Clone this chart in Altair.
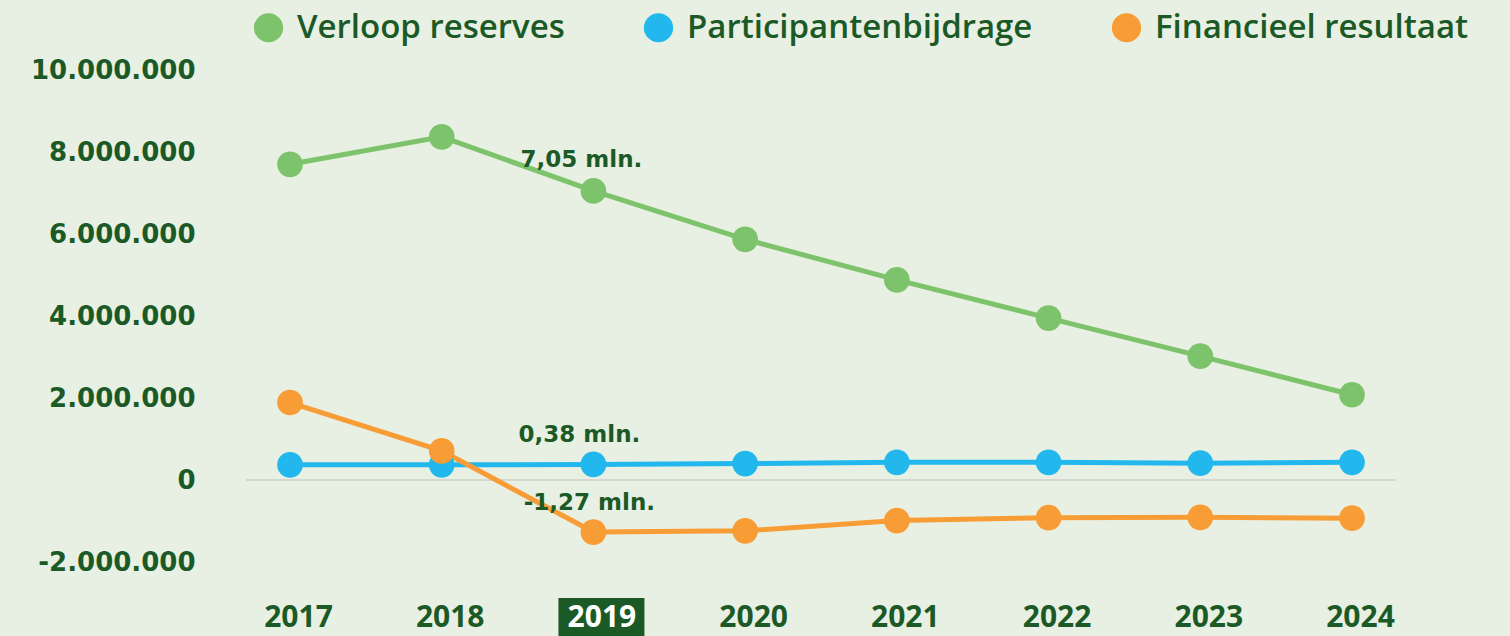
import altair as alt
import pandas as pd

years = ["2017", "2018", "2019", "2020", "2021", "2022", "2023", "2024"]
series_names = ["Verloop reserves", "Participantenbijdrage", "Financieel resultaat"]
reserves = [7700000, 8370000, 7050000, 5870000, 4880000, 3950000, 3020000, 2080000]
bijdrage = [370000, 370000, 380000, 400000, 430000, 430000, 410000, 430000]
resultaat = [1890000, 710000, -1270000, -1240000, -990000, -920000, -910000, -930000]
colors = ["#7dc36b", "#22b8ee", "#f89c35"]
y_ticks = [-2000000, 0, 2000000, 4000000, 6000000, 8000000, 10000000]
highlight_year = "2019"
annotations = ["7,05 mln.", "0,38 mln.", "-1,27 mln."]

TEXT = "#1b5a26"
BG = "#e8f0e3"

rows = []
for name, vals in zip(series_names, [reserves, bijdrage, resultaat]):
    for y, v in zip(years, vals):
        rows.append({"year": y, "value": v, "series": name})
df = pd.DataFrame(rows)

ann_df = pd.DataFrame({
    "year": [highlight_year] * 3,
    "value": [reserves[2], bijdrage[2], resultaat[2]],
    "text": annotations,
})

x_enc = alt.X(
    "year:O",
    scale=alt.Scale(type="point", padding=0.29),
    axis=alt.Axis(
        title=None, ticks=False, domain=False, grid=False,
        labelAngle=0, labelAlign="center", labelBaseline="top",
        labelFont="Open Sans", labelFontWeight="bold", labelOffset=8,
        labelFontSize=30, labelPadding=40, zindex=1,
        labelColor={"condition": {"test": "datum.label == '2019'", "value": "white"}, "value": TEXT},
    ),
)
y_enc = alt.Y(
    "value:Q",
    scale=alt.Scale(domain=[-2000000, 10000000], nice=False),
    axis=alt.Axis(
        title=None, ticks=False, domain=False, grid=False, values=y_ticks,
        labelFont="DejaVu Sans", labelFontWeight="bold", labelFontSize=26,
        labelColor=TEXT, labelPadding=51,
        labelExpr="(datum.value < 0 ? '-' : '') + join(split(format(abs(datum.value), ','), ','), '.')",
    ),
)
color_enc = alt.Color(
    "series:N",
    scale=alt.Scale(domain=series_names, range=colors),
    legend=alt.Legend(
        title=None, orient="none", direction="horizontal", legendX=6, legendY=-59,
        symbolType="circle", symbolSize=855, symbolStrokeWidth=0, symbolOpacity=1,
        labelFont="Open Sans", labelFontSize=33, labelFontWeight=600, labelColor=TEXT,
        labelOffset=12, columnPadding=77, labelLimit=600,
    ),
)

base = alt.Chart(df)

zero = alt.Chart(pd.DataFrame({"z": [0]})).mark_rule(color="#d3d8d1", strokeWidth=2).encode(y=alt.Y("z:Q"))

box = alt.Chart(pd.DataFrame({"year": [highlight_year]})).mark_point(
    shape="M-1,-0.465L1,-0.465L1,0.465L-1,0.465Z", size=7396, filled=True, opacity=1,
    color="#1b5a26", xOffset=8,
).encode(x=alt.X("year:O"), y=alt.value(548))

lines = base.mark_line(strokeWidth=5).encode(x=x_enc, y=y_enc, color=color_enc)
points = base.mark_circle(size=660, opacity=1).encode(x="year:O", y="value:Q", color=alt.Color("series:N", legend=None))

offsets = [(-12, -31), (-14, -29), (-4, -29)]
texts = []
for i, (dx, dy) in enumerate(offsets):
    texts.append(
        alt.Chart(ann_df.iloc[[i]]).mark_text(
            font="DejaVu Sans", fontWeight="bold", fontSize=23, color=TEXT, dx=dx, dy=dy
        ).encode(x="year:O", y="value:Q", text="text:N")
    )

chart = alt.layer(zero, box, lines, points, *texts).properties(
    width=1150, height=492,
    autosize=alt.AutoSizeParams(type="none"),
    padding={"left": 246, "top": 70, "right": 114, "bottom": 74},
    background=BG,
).configure_view(stroke=None)

chart.save("out.html", embed_options={"renderer": "svg", "actions": False})
